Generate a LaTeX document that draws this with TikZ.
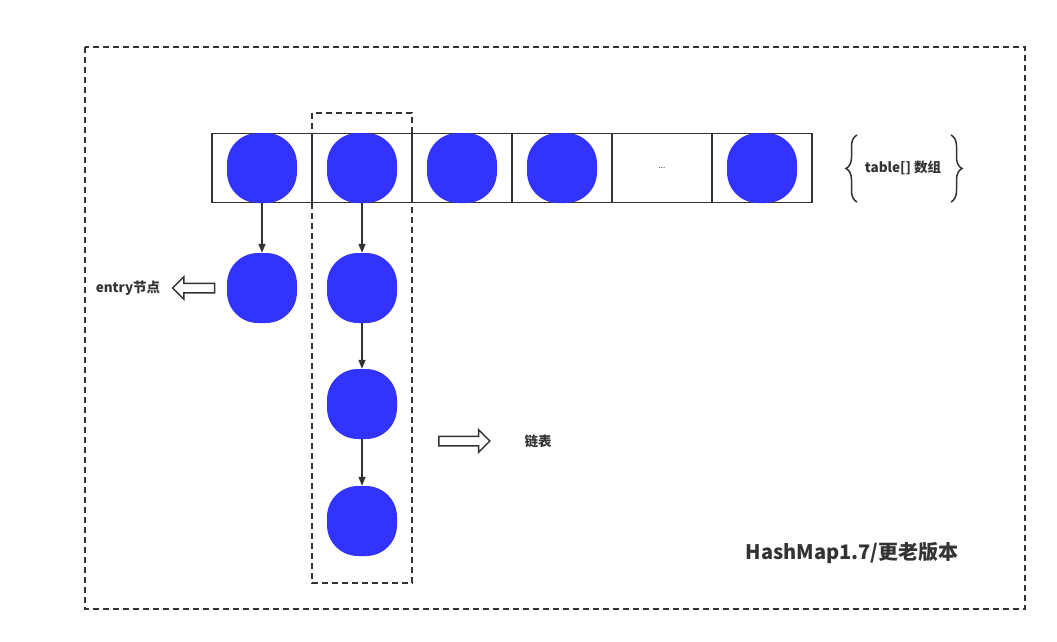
\documentclass[tikz,border=0pt]{standalone}
\usepackage{fontspec}
\setmainfont{Noto Sans CJK SC}
\usetikzlibrary{arrows.meta, shapes.arrows, positioning, decorations.pathreplacing}
\definecolor{nodeblue}{HTML}{3333FF}
\definecolor{linegray}{HTML}{333333}

\begin{document}
\begin{tikzpicture}[x=1pt, y=-1pt]
    \tikzset{
        cell/.style={draw=linegray, line width=1.5pt, minimum width=100pt, minimum height=69pt, inner sep=0pt},
        entry/.style={fill=nodeblue, rounded corners=31pt, minimum size=70pt, inner sep=0pt},
        link/.style={draw=linegray, line width=1.3pt, -{Triangle[length=9pt, width=7pt]}},
        hollow/.style={single arrow, draw=linegray, line width=1.5pt, inner sep=4pt, minimum width=21pt, single arrow head extend=6.5pt, single arrow tip angle=90},
        box/.style={draw=linegray, line width=1.3pt, dash pattern=on 6pt off 4pt},
        curly/.style={draw=linegray, line width=1.5pt, decorate, decoration={brace, amplitude=11pt}},
        label/.style={text=linegray, font=\bfseries\fontsize{13.5}{15}\selectfont}
    }
    \useasboundingbox (0,0) rectangle (1057,642);

    % outer frame
    \draw[box] (85,47) rectangle (1025,609);

    % table[] array
    \foreach \i in {1,...,6} {
        \node[cell] (c\i) at (162+100*\i,168) {};
    }
    \foreach \i in {1,2,3,4,6} {
        \node[entry] (t\i) at (c\i) {};
    }
    \node[text=linegray, font=\fontsize{8}{8}\selectfont] (dots) at (c5) {...};

    % bucket column
    \draw[box] (312,113) rectangle (412,583);

    % entries
    \node[entry] (e1) at (262,288) {};
    \node[entry] (e2) at (362,288) {};
    \node[entry] (e3) at (362,404) {};
    \node[entry] (e4) at (362,521) {};

    \draw[link] (c1.south) -- (e1.north);
    \draw[link] (c2.south) -- (e2.north);
    \draw[link] (e2.south) -- (e3.north);
    \draw[link] (e3.south) -- (e4.north);

    % labels
    \node[hollow, shape border rotate=180, minimum height=42pt] (entryarrow) at (196,288) {};
    \node[label] (entrytext) at (128,288) {entry节点};
    \node[hollow, minimum height=51pt] (listarrow) at (462,441) {};
    \node[label] (listtext) at (538,441) {链表};

    \node[label] (tabletext) at (903,168) {table[] 数组};
    \draw[curly] (857,202) -- (857,135);
    \draw[curly] (951,135) -- (951,202);

    \node[text=linegray, font=\bfseries\fontsize{20}{23}\selectfont] (title) at (852,553) {HashMap1.7/更老版本};
\end{tikzpicture}
\end{document}
